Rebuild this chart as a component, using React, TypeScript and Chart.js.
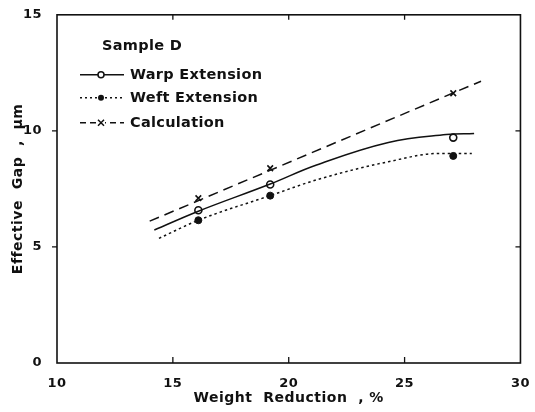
import React, { useEffect, useRef } from 'react';
import { Chart, registerables } from 'chart.js';

Chart.register(...registerables);

// ---- data ----
const xTickValues = [10, 15, 20, 25, 30];
const yTickValues = [0, 5, 10, 15];

const sampleName = 'Sample D';
const seriesNames = ['Warp Extension', 'Weft Extension', 'Calculation'];

const pointX = [16.1, 19.2, 27.1];
const warpY = [6.58, 7.69, 9.71];
const weftY = [6.15, 7.21, 8.92];
const calcY = [7.1, 8.39, 11.62];

const warpCurveX = [14.2, 16.1, 19.2, 21.2, 24.3, 26.8, 28.0];
const warpCurveY = [5.73, 6.54, 7.71, 8.53, 9.5, 9.84, 9.89];
const weftCurveX = [14.4, 16.1, 19.2, 21.2, 24.3, 26.5, 27.9];
const weftCurveY = [5.37, 6.15, 7.21, 7.89, 8.67, 9.03, 9.03];
const calcLineX = [14.0, 28.3];
const calcLineY = [6.11, 12.14];

const xTitle = 'Weight  Reduction  , %';
const yTitle = 'Effective  Gap  ,  µm';

const INK = '#111111';
const FONT = '"DejaVu Sans", sans-serif';

const zip = (xs: number[], ys: number[]) => xs.map((x, i) => ({ x, y: ys[i] }));

const spacingPlugin = {
  id: 'spacing',
  beforeLayout(chart: any) {
    chart.ctx.letterSpacing = '0.5px';
  },
  beforeDraw(chart: any) {
    chart.ctx.letterSpacing = '0.5px';
  },
};

const framePlugin = {
  id: 'frame',
  afterDraw(chart: any) {
    const { ctx, chartArea: a, scales } = chart;
    const xs = scales.x;
    const ys = scales.y;
    ctx.save();
    ctx.strokeStyle = INK;
    ctx.lineWidth = 1.6;
    ctx.strokeRect(a.left, a.top, a.right - a.left, a.bottom - a.top);
    ctx.lineWidth = 1.3;
    ctx.beginPath();
    [15, 20, 25].forEach((v) => {
      const px = xs.getPixelForValue(v);
      ctx.moveTo(px, a.bottom);
      ctx.lineTo(px, a.bottom - 6);
      ctx.moveTo(px, a.top);
      ctx.lineTo(px, a.top + 5);
    });
    [5, 10].forEach((v) => {
      const py = ys.getPixelForValue(v);
      ctx.moveTo(a.left - 5, py);
      ctx.lineTo(a.left, py);
      ctx.moveTo(a.right, py);
      ctx.lineTo(a.right - 5, py);
    });
    ctx.stroke();

    // legend
    ctx.fillStyle = INK;
    ctx.font = 'bold 14.5px ' + FONT;
    ctx.letterSpacing = '0.3px';
    ctx.textBaseline = 'middle';
    ctx.textAlign = 'left';
    ctx.fillText(sampleName, a.left + 45, a.top + 31);
    const rowsY = [a.top + 60, a.top + 83, a.top + 108];
    const lx0 = a.left + 23;
    const lx1 = a.left + 67;
    const mx = a.left + 44;
    const dashes = [[], [2, 3], [6, 4]];
    rowsY.forEach((ry, i) => {
      ctx.save();
      ctx.lineWidth = 1.4;
      ctx.setLineDash(dashes[i]);
      ctx.beginPath();
      ctx.moveTo(lx0, ry);
      ctx.lineTo(lx1, ry);
      ctx.stroke();
      ctx.restore();
      ctx.lineWidth = 1.5;
      if (i === 0) {
        ctx.fillStyle = '#fff';
        ctx.beginPath();
        ctx.arc(mx, ry, 3, 0, Math.PI * 2);
        ctx.fill();
        ctx.stroke();
      } else if (i === 1) {
        ctx.fillStyle = INK;
        ctx.beginPath();
        ctx.arc(mx, ry, 3, 0, Math.PI * 2);
        ctx.fill();
      } else {
        ctx.fillStyle = '#fff';
        ctx.fillRect(mx - 4, ry - 4, 8, 8);
        ctx.beginPath();
        ctx.moveTo(mx - 3, ry - 3);
        ctx.lineTo(mx + 3, ry + 3);
        ctx.moveTo(mx + 3, ry - 3);
        ctx.lineTo(mx - 3, ry + 3);
        ctx.stroke();
      }
      ctx.fillStyle = INK;
      ctx.fillText(seriesNames[i], a.left + 73, ry);
    });
    ctx.restore();
  },
};

export default function App() {
  const ref = useRef<HTMLCanvasElement | null>(null);

  useEffect(() => {
    if (!ref.current) return;
    const chart = new Chart(ref.current, {
      type: 'scatter',
      data: {
        datasets: [
          {
            label: 'Warp curve',
            data: zip(warpCurveX, warpCurveY),
            showLine: true,
            borderColor: INK,
            borderWidth: 1.5,
            pointRadius: 0,
            tension: 0.4,
          },
          {
            label: 'Weft curve',
            data: zip(weftCurveX, weftCurveY),
            showLine: true,
            borderColor: INK,
            borderWidth: 1.5,
            borderDash: [2.5, 3],
            pointRadius: 0,
            cubicInterpolationMode: 'monotone',
          },
          {
            label: 'Calculation line',
            data: zip(calcLineX, calcLineY),
            showLine: true,
            borderColor: INK,
            borderWidth: 1.5,
            borderDash: [10, 6],
            pointRadius: 0,
          },
          {
            label: seriesNames[0],
            data: zip(pointX, warpY),
            showLine: false,
            pointStyle: 'circle',
            pointRadius: 3.5,
            borderWidth: 1.6,
            borderColor: INK,
            backgroundColor: '#fff',
          },
          {
            label: seriesNames[1],
            data: zip(pointX, weftY),
            showLine: false,
            pointStyle: 'circle',
            pointRadius: 3.5,
            borderWidth: 1,
            borderColor: INK,
            backgroundColor: INK,
          },
          {
            label: seriesNames[2],
            data: zip(pointX, calcY),
            showLine: false,
            pointStyle: 'crossRot',
            pointRadius: 4,
            borderWidth: 1.6,
            borderColor: INK,
          },
        ],
      },
      options: {
        animation: false,
        responsive: false,
        maintainAspectRatio: false,
        events: [],
        layout: { padding: { top: 12, right: 9, left: 0, bottom: 0 } },
        plugins: {
          legend: { display: false },
          tooltip: { enabled: false },
        },
        scales: {
          x: {
            type: 'linear',
            min: 10,
            max: 30,
            afterBuildTicks: (s: any) => {
              s.ticks = xTickValues.map((v) => ({ value: v }));
            },
            afterFit: (s: any) => {
              s.height = 49;
            },
            grid: { display: false },
            border: { display: false },
            ticks: {
              color: INK,
              font: { family: FONT, size: 13, weight: 'bold' },
              padding: 5,
              maxRotation: 0,
            },
            title: {
              display: true,
              text: xTitle,
              color: INK,
              font: { family: FONT, size: 14, weight: 'bold' },
              padding: { top: 0, bottom: 5 },
            },
          },
          y: {
            type: 'linear',
            min: 0,
            max: 15,
            afterBuildTicks: (s: any) => {
              s.ticks = yTickValues.map((v) => ({ value: v }));
            },
            afterFit: (s: any) => {
              s.width = 57;
            },
            grid: { display: false },
            border: { display: false },
            ticks: {
              color: INK,
              font: { family: FONT, size: 13, weight: 'bold' },
              padding: 7,
            },
            title: {
              display: true,
              text: yTitle,
              color: INK,
              font: { family: FONT, size: 14, weight: 'bold' },
              padding: { top: 10, bottom: 0 },
            },
          },
        },
      },
      plugins: [spacingPlugin, framePlugin],
    } as any);
    return () => chart.destroy();
  }, []);

  return (
    <div style={{ position: 'fixed', left: 0, top: 0, width: 535, height: 412, background: '#fff' }}>
      <canvas ref={ref} width={535} height={412} style={{ display: 'block' }} />
    </div>
  );
}
